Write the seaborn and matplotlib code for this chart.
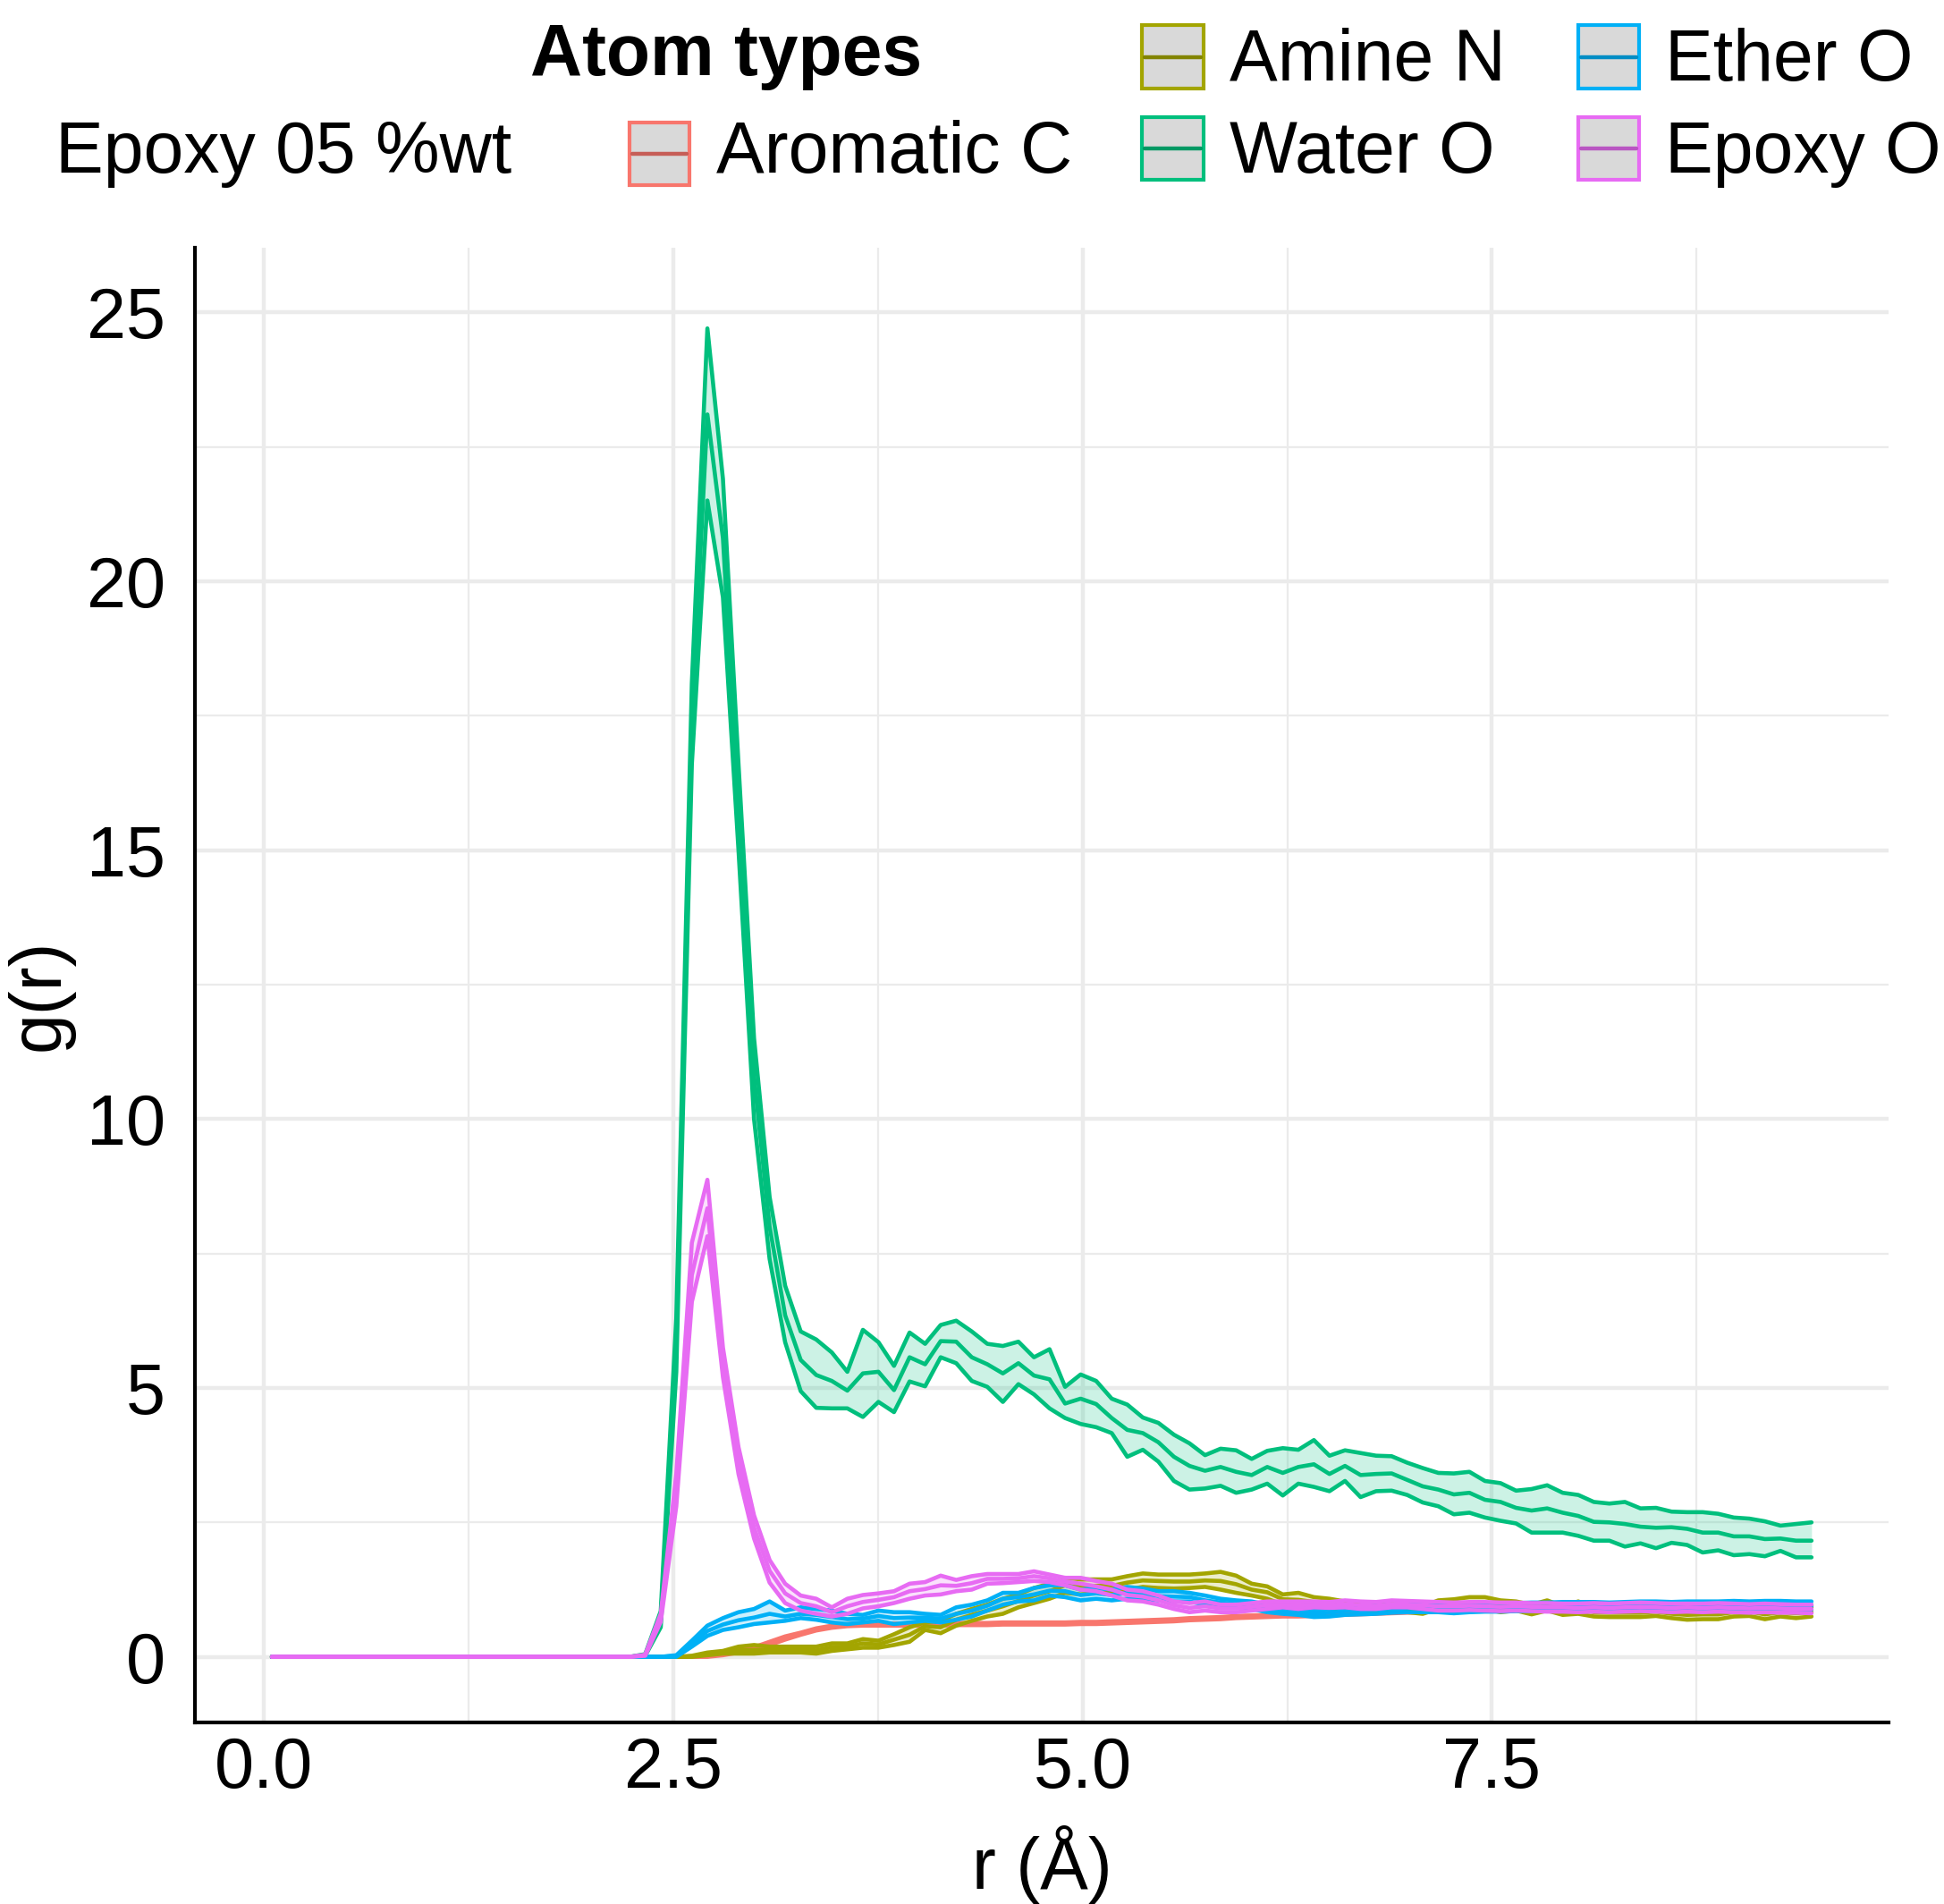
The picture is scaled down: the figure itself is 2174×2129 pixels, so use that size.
import numpy as np
import pandas as pd
import matplotlib
matplotlib.use("Agg")
import matplotlib.pyplot as plt
from matplotlib.patches import Rectangle
from matplotlib.lines import Line2D
import seaborn as sns

# ---------------- data ----------------
r = np.round(0.0475 + 0.095 * np.arange(100), 4)   # bin centres (Å)

types = ["Aromatic C", "Amine N", "Water O", "Ether O", "Epoxy O"]
colors = ["#F8766D", "#A3A500", "#00BF7D", "#00B0F6", "#E76BF3"]

arom_lower = [0.0]*28 + [0.0,0.03,0.08,0.14,0.22,0.32,0.41,0.49,0.54,0.57,
    0.58,0.58,0.58,0.58,0.58,0.58,0.59,0.59,0.59,0.60,
    0.60,0.60,0.60,0.60,0.61,0.61,0.62,0.63,0.64,0.65,
    0.66,0.68,0.69,0.70,0.72,0.73,0.74,0.75,0.75,0.76,
    0.77,0.78,0.79,0.80,0.81,0.82,0.83,0.84,0.85,0.86,
    0.86,0.87,0.88,0.88,0.89,0.89,0.90,0.90,0.90,0.91,
    0.91,0.91,0.91,0.92,0.92,0.92,0.92,0.92,0.93,0.93,
    0.93,0.93]
arom_mid = [0.0]*28 + [0.01,0.05,0.10,0.16,0.25,0.35,0.43,0.51,0.56,0.59,
    0.60,0.60,0.60,0.60,0.60,0.60,0.61,0.61,0.61,0.62,
    0.62,0.62,0.62,0.62,0.63,0.63,0.64,0.65,0.66,0.67,
    0.68,0.70,0.71,0.72,0.74,0.75,0.76,0.77,0.77,0.78,
    0.79,0.80,0.81,0.82,0.83,0.84,0.85,0.86,0.87,0.88,
    0.88,0.89,0.90,0.90,0.91,0.91,0.92,0.92,0.92,0.93,
    0.93,0.93,0.93,0.94,0.94,0.94,0.94,0.94,0.95,0.95,
    0.95,0.95]
arom_upper = [0.0]*28 + [0.02,0.07,0.12,0.18,0.28,0.38,0.45,0.53,0.58,0.61,
    0.62,0.62,0.62,0.62,0.62,0.62,0.63,0.63,0.63,0.64,
    0.64,0.64,0.64,0.64,0.65,0.65,0.66,0.67,0.68,0.69,
    0.70,0.72,0.73,0.74,0.76,0.77,0.78,0.79,0.79,0.80,
    0.81,0.82,0.83,0.84,0.85,0.86,0.87,0.88,0.89,0.90,
    0.90,0.91,0.92,0.92,0.93,0.93,0.94,0.94,0.94,0.95,
    0.95,0.95,0.95,0.96,0.96,0.96,0.96,0.96,0.97,0.97,
    0.97,0.97]

amine_lower = [0.0]*27 + [0.0,0.03,0.06,0.06,0.06,0.08,0.08,0.08,0.06,
    0.11,0.14,0.17,0.17,0.22,0.28,0.50,0.44,0.58,0.67,
    0.75,0.80,0.92,1.00,1.08,1.19,1.16,1.19,1.19,1.25,
    1.30,1.28,1.27,1.28,1.30,1.25,1.19,1.14,1.08,0.97,
    0.94,0.92,0.89,0.86,0.86,0.83,0.83,0.83,0.80,0.89,
    0.86,0.89,0.89,0.83,0.86,0.79,0.86,0.78,0.80,0.75,
    0.74,0.74,0.74,0.76,0.72,0.69,0.70,0.70,0.75,0.76,
    0.70,0.75,0.72,0.75]
amine_mid = [0.0]*27 + [0.01,0.05,0.08,0.12,0.13,0.13,0.13,0.14,0.12,
    0.18,0.19,0.25,0.23,0.32,0.41,0.57,0.55,0.69,0.78,
    0.86,0.94,1.04,1.14,1.22,1.33,1.30,1.32,1.32,1.38,
    1.42,1.41,1.40,1.40,1.42,1.41,1.35,1.25,1.20,1.07,
    1.06,1.02,0.99,0.94,0.92,0.91,0.90,0.90,0.87,0.97,
    0.96,0.99,0.99,0.94,0.95,0.88,0.96,0.86,0.91,0.83,
    0.82,0.82,0.82,0.84,0.80,0.78,0.79,0.79,0.83,0.84,
    0.79,0.83,0.81,0.83]
amine_upper = [0.0]*27 + [0.02,0.08,0.11,0.19,0.22,0.19,0.19,0.19,0.19,
    0.25,0.25,0.33,0.30,0.42,0.55,0.64,0.67,0.80,0.89,
    0.97,1.08,1.16,1.28,1.36,1.47,1.44,1.44,1.44,1.50,
    1.55,1.53,1.53,1.53,1.55,1.58,1.51,1.36,1.31,1.16,
    1.19,1.11,1.08,1.03,1.00,1.00,0.98,0.97,0.94,1.05,
    1.07,1.11,1.11,1.05,1.03,0.97,1.05,0.94,1.03,0.92,
    0.92,0.91,0.91,0.92,0.89,0.87,0.89,0.89,0.91,0.91,
    0.89,0.91,0.89,0.92]

water_lower = [0.0]*24 + [0.02,0.55,5.3,16.6,21.5,19.7,15.0,10.0,7.4,5.85,
    4.94,4.63,4.62,4.62,4.46,4.74,4.55,5.12,5.03,5.57,
    5.46,5.13,5.02,4.74,5.07,4.88,4.62,4.44,4.33,4.27,
    4.16,3.72,3.85,3.63,3.27,3.11,3.13,3.18,3.05,3.11,
    3.22,3.00,3.22,3.16,3.08,3.27,2.97,3.08,3.09,3.01,
    2.87,2.80,2.65,2.68,2.59,2.53,2.48,2.31,2.31,2.31,
    2.25,2.16,2.16,2.05,2.11,2.02,2.12,2.08,1.94,1.98,
    1.89,1.91,1.87,1.97,1.85,1.85]
water_mid = [0.0]*24 + [0.03,0.70,5.8,17.4,23.1,20.8,15.8,10.8,8.0,6.35,
    5.52,5.24,5.13,4.95,5.27,5.30,4.96,5.57,5.44,5.87,
    5.86,5.57,5.44,5.27,5.46,5.23,5.16,4.71,4.80,4.70,
    4.44,4.22,4.16,3.99,3.72,3.55,3.46,3.53,3.44,3.38,
    3.53,3.42,3.53,3.58,3.40,3.55,3.38,3.40,3.41,3.29,
    3.17,3.11,3.02,3.05,2.92,2.88,2.77,2.72,2.76,2.68,
    2.62,2.51,2.50,2.47,2.42,2.40,2.41,2.38,2.31,2.31,
    2.24,2.24,2.19,2.20,2.16,2.16]
water_upper = [0.0]*24 + [0.05,0.85,6.3,18.1,24.7,21.9,16.6,11.5,8.55,6.9,
    6.05,5.90,5.66,5.30,6.08,5.85,5.41,6.03,5.82,6.17,
    6.25,6.05,5.82,5.78,5.86,5.57,5.72,5.02,5.25,5.13,
    4.80,4.69,4.45,4.35,4.13,3.97,3.75,3.87,3.84,3.68,
    3.83,3.88,3.85,4.03,3.74,3.84,3.79,3.74,3.73,3.61,
    3.51,3.42,3.41,3.44,3.27,3.23,3.09,3.12,3.19,3.05,
    3.01,2.88,2.85,2.88,2.76,2.77,2.70,2.69,2.69,2.66,
    2.59,2.57,2.52,2.44,2.47,2.50]

ether_lower = [0.0]*26 + [0.0,0.19,0.39,0.50,0.55,0.61,0.64,0.67,0.72,0.69,
    0.64,0.61,0.64,0.67,0.61,0.64,0.67,0.64,0.69,0.75,
    0.86,0.97,1.03,1.05,1.14,1.11,1.05,1.08,1.05,1.08,
    1.08,1.05,1.03,1.03,0.97,0.94,0.92,0.89,0.83,0.80,
    0.78,0.74,0.75,0.78,0.79,0.80,0.82,0.83,0.83,0.83,
    0.81,0.83,0.84,0.84,0.85,0.85,0.86,0.86,0.86,0.86,
    0.87,0.86,0.87,0.87,0.88,0.87,0.88,0.88,0.87,0.88,
    0.88,0.88,0.87,0.88]
ether_mid = [0.0]*26 + [0.02,0.25,0.48,0.60,0.68,0.73,0.80,0.75,0.80,0.78,
    0.74,0.70,0.71,0.76,0.72,0.73,0.73,0.71,0.80,0.86,
    0.95,1.08,1.11,1.16,1.23,1.22,1.15,1.18,1.15,1.19,
    1.17,1.13,1.12,1.11,1.05,1.01,0.98,0.96,0.90,0.86,
    0.85,0.80,0.82,0.85,0.86,0.87,0.89,0.90,0.91,0.91,
    0.90,0.91,0.92,0.92,0.93,0.93,0.93,0.94,0.94,0.94,
    0.94,0.94,0.95,0.95,0.95,0.95,0.95,0.96,0.95,0.96,
    0.96,0.96,0.95,0.95]
ether_upper = [0.0]*26 + [0.03,0.30,0.58,0.72,0.83,0.89,1.03,0.86,0.92,0.89,
    0.86,0.80,0.78,0.86,0.83,0.83,0.80,0.78,0.92,0.97,
    1.05,1.19,1.19,1.28,1.33,1.33,1.25,1.28,1.25,1.30,
    1.27,1.22,1.22,1.19,1.14,1.08,1.05,1.03,0.97,0.92,
    0.92,0.86,0.89,0.92,0.94,0.95,0.97,0.98,1.00,0.99,
    0.98,0.99,1.00,1.00,1.00,1.01,1.01,1.02,1.02,1.02,
    1.01,1.02,1.03,1.03,1.02,1.03,1.03,1.03,1.04,1.03,
    1.04,1.04,1.03,1.03]

epoxy_lower = [0.0]*24 + [0.02,0.65,2.8,6.6,7.82,5.2,3.4,2.2,1.38,1.0,
    0.86,0.80,0.75,0.80,0.90,0.94,1.0,1.08,1.14,1.16,
    1.22,1.25,1.36,1.37,1.39,1.41,1.39,1.33,1.25,1.22,
    1.14,1.05,1.03,0.97,0.89,0.83,0.86,0.83,0.83,0.86,
    0.89,0.92,0.89,0.92,0.91,0.92,0.89,0.89,0.92,0.92,
    0.89,0.86,0.86,0.87,0.86,0.85,0.86,0.85,0.84,0.84,
    0.83,0.84,0.83,0.84,0.85,0.84,0.83,0.84,0.83,0.84,
    0.83,0.82,0.83,0.82,0.82,0.81]
epoxy_mid = [0.0]*24 + [0.03,0.72,3.1,7.1,8.34,5.45,3.65,2.4,1.6,1.18,
    1.0,0.94,0.83,0.94,1.02,1.06,1.11,1.22,1.26,1.33,
    1.32,1.37,1.45,1.45,1.46,1.50,1.46,1.40,1.36,1.31,
    1.25,1.15,1.12,1.05,0.96,0.91,0.94,0.90,0.90,0.93,
    0.96,0.97,0.96,0.97,0.96,0.98,0.96,0.95,0.98,0.97,
    0.96,0.94,0.94,0.95,0.94,0.93,0.94,0.93,0.92,0.92,
    0.91,0.92,0.91,0.92,0.93,0.92,0.91,0.92,0.91,0.92,
    0.91,0.90,0.91,0.90,0.89,0.89]
epoxy_upper = [0.0]*24 + [0.04,0.80,3.4,7.7,8.87,5.75,3.9,2.63,1.8,1.36,
    1.14,1.08,0.92,1.08,1.15,1.18,1.22,1.36,1.39,1.51,
    1.43,1.50,1.54,1.54,1.54,1.59,1.53,1.47,1.47,1.41,
    1.36,1.25,1.22,1.14,1.03,1.0,1.03,0.97,0.97,1.0,
    1.03,1.03,1.03,1.03,1.02,1.05,1.03,1.02,1.05,1.04,
    1.03,1.02,1.01,1.02,1.02,1.01,1.01,1.00,1.00,0.99,
    0.99,1.00,0.99,1.00,1.01,1.00,0.99,0.99,0.99,1.00,
    0.99,0.98,0.99,0.98,0.97,0.97]

series = {
    "Aromatic C": (arom_lower, arom_mid, arom_upper),
    "Amine N": (amine_lower, amine_mid, amine_upper),
    "Water O": (water_lower, water_mid, water_upper),
    "Ether O": (ether_lower, ether_mid, ether_upper),
    "Epoxy O": (epoxy_lower, epoxy_mid, epoxy_upper),
}

rows = []
for t, (lo, mi, up) in series.items():
    for stat, vals in (("lower", lo), ("mean", mi), ("upper", up)):
        assert len(vals) == len(r), (t, stat, len(vals))
        for x, y in zip(r, vals):
            rows.append((t, stat, x, y))
df = pd.DataFrame(rows, columns=["type", "stat", "r", "g"])

# ---------------- figure ----------------
sns.set_style("white")
plt.rcParams["font.family"] = ["Liberation Sans", "DejaVu Sans"]
plt.rcParams["text.color"] = "black"
plt.rcParams["axes.labelcolor"] = "black"

W, H = 2174, 2129
DPI = 200
fig = plt.figure(figsize=(W / DPI, H / DPI), dpi=DPI)
ax = fig.add_axes([218 / W, 1 - 1926 / H, (2112 - 218) / W, (1926 - 277) / H])

pal = dict(zip(types, colors))
for t in types:
    lo, mi, up = series[t]
    ax.fill_between(r, lo, up, color=pal[t], alpha=0.2, lw=0, zorder=1.5)

sns.lineplot(data=df, x="r", y="g", hue="type", hue_order=types, units="stat",
             estimator=None, palette=pal, legend=False, linewidth=1.65,
             sort=False, ax=ax, zorder=2)

ax.set_xlim(-0.423, 9.923)
ax.set_ylim(-1.22, 26.2)
ax.set_xticks([0, 2.5, 5, 7.5])
ax.set_xticklabels(["0.0", "2.5", "5.0", "7.5"])
ax.set_yticks([0, 5, 10, 15, 20, 25])
ax.set_xticks([1.25, 3.75, 6.25, 8.75], minor=True)
ax.set_yticks([2.5, 7.5, 12.5, 17.5, 22.5], minor=True)
ax.set_axisbelow(True)
ax.grid(which="major", color="#EBEBEB", lw=1.6)
ax.grid(which="minor", color="#EBEBEB", lw=0.8)
ax.tick_params(which="minor", length=0)
ax.tick_params(axis="both", which="major", labelsize=28.5, colors="#333333",
               length=4.3, width=1.1, labelcolor="black")
ax.tick_params(axis="x", pad=1)
ax.tick_params(axis="y", pad=7.5)
for s in ("top", "right"):
    ax.spines[s].set_visible(False)
for s in ("left", "bottom"):
    ax.spines[s].set_color("black")
    ax.spines[s].set_linewidth(1.5)
ax.set_xlabel("")
ax.set_ylabel("")

# axis titles
fig.text(1165 / W, 1 - 2112 / H, "r (Å)", ha="center", va="baseline",
         fontsize=29, color="black")
fig.text(45 / W, 1 - 1112 / H, "g(r)", ha="center", va="center", rotation=90,
         fontsize=29, color="black")

# ---------------- legend (drawn manually, ggplot style) ----------------
def darker(hexc, f=0.8):
    c = matplotlib.colors.to_rgb(hexc)
    return tuple(v * f for v in c)

keys = {
    "Aromatic C": (704, 137, 771, 207, 801, 193),
    "Amine N": (1277, 28, 1346, 99, 1375, 90),
    "Water O": (1277, 131, 1346, 201, 1375, 193),
    "Ether O": (1765, 28, 1833, 99, 1862, 90),
    "Epoxy O": (1765, 131, 1833, 201, 1862, 193),
}
for t, (x0, y0, x1, y1, tx, ty) in keys.items():
    c = pal[t]
    fig.add_artist(Rectangle((x0 / W, 1 - y1 / H), (x1 - x0) / W, (y1 - y0) / H,
                             transform=fig.transFigure, facecolor="#D9D9D9",
                             edgecolor=c, lw=1.5))
    ym = (y0 + y1) / 2
    fig.add_artist(Line2D([(x0 + 3) / W, (x1 - 3) / W], [1 - ym / H] * 2,
                          transform=fig.transFigure, color=darker(c), lw=1.6))
    fig.text(tx / W, 1 - ty / H, t, ha="left", va="baseline", fontsize=29,
             color="black")

fig.text(593 / W, 1 - 84 / H, "Atom types", ha="left", va="baseline",
         fontsize=29, fontweight="bold", color="black")
fig.text(62 / W, 1 - 193 / H, "Epoxy 05 %wt", ha="left", va="baseline",
         fontsize=29, color="black")

fig.savefig("out.png", dpi=DPI)
